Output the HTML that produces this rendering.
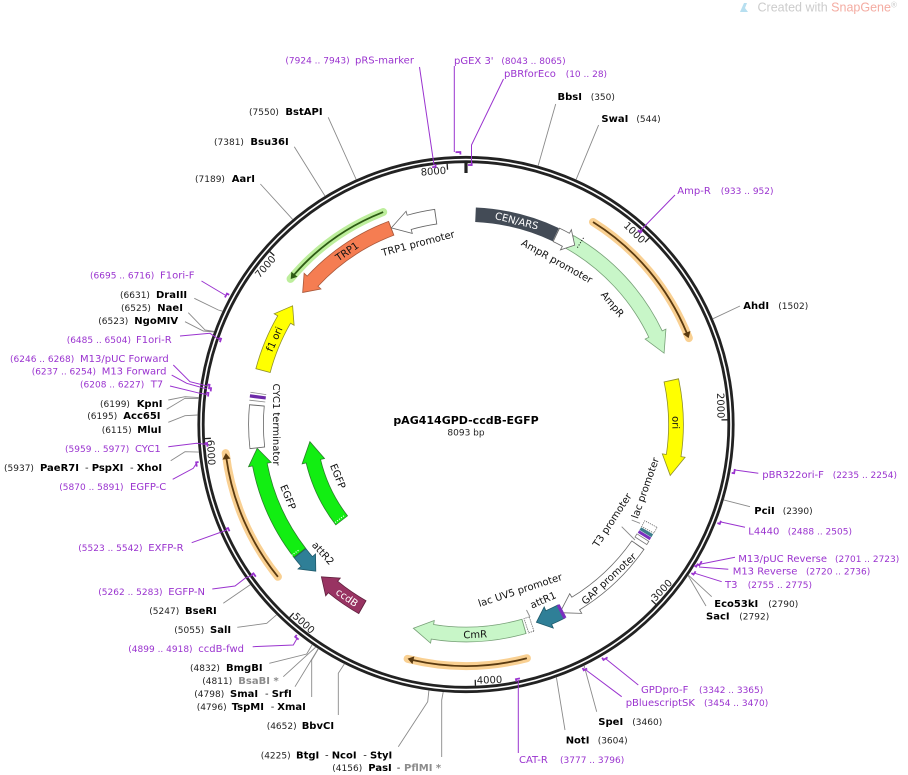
<!DOCTYPE html>
<html><head><meta charset="utf-8"><style>
html,body{margin:0;padding:0;background:#fff}
svg{display:block}
text{font-family:"DejaVu Sans","Liberation Sans",sans-serif}
.e{font-size:10px;font-weight:bold;fill:#000}
.g{font-size:10px;font-weight:bold;fill:#8c8c8c}
.d{font-size:10px;fill:#222}
.n{font-size:9px;fill:#222}
.p{font-size:10px;fill:#9a33cf}
.pn{font-size:9px;fill:#9a33cf}
.f{font-size:10px;fill:#111}
.t{font-size:10px;fill:#222}
.le{stroke:#8a8a8a;stroke-width:.9;fill:none}
.lp{stroke:#9a33cf;stroke-width:1;fill:none}
.mk{stroke:#9a33cf;stroke-width:1.8;fill:none}
.b{fill:none}
</style></head><body>
<svg width="908" height="775" viewBox="0 0 908 775" xmlns="http://www.w3.org/2000/svg">
<rect width="908" height="775" fill="#fff"/>

<!-- watermark -->
<polygon points="740,12 744,3 747,3 745,8 748,12" fill="#b7dff0"/>
<text x="757.5" y="11.5" style="font-family:'Liberation Sans',sans-serif;font-size:12.5px;fill:#cccccc">Created with <tspan fill="#f4aca2">SnapGene</tspan><tspan font-size="8" dy="-4">®</tspan></text>

<!-- ORFs (glow + line) -->
<g stroke-linecap="round">
<circle class="b" cx="466" cy="424.5" r="239" stroke="#f9d092" stroke-width="8" stroke-dasharray="153.1 2000" transform="rotate(-57.9 466 424.5)"/>
<circle class="b" cx="466" cy="424.5" r="241.5" stroke="#f9d092" stroke-width="8" stroke-dasharray="120.5 2000" transform="rotate(75.4 466 424.5)"/>
<circle class="b" cx="466" cy="424.5" r="242" stroke="#f9d092" stroke-width="8" stroke-dasharray="136 2000" transform="rotate(141 466 424.5)"/>
<circle class="b" cx="466" cy="424.5" r="228" stroke="#bdee9c" stroke-width="8" stroke-dasharray="115.4 2000" transform="rotate(219.7 466 424.5)"/>
</g>
<circle class="b" cx="466" cy="424.5" r="239" stroke="#5a3a10" stroke-width="1.8" stroke-dasharray="147.7 2000" transform="rotate(-57.9 466 424.5)"/>
<polygon points="460,181.5 460,189.5 466,185.7" fill="#5a3a10" transform="rotate(68.8 466 424.5)"/>
<circle class="b" cx="466" cy="424.5" r="241.5" stroke="#5a3a10" stroke-width="1.8" stroke-dasharray="115.5 2000" transform="rotate(75.4 466 424.5)"/>
<polygon points="460,179 460,187 466,183.2" fill="#5a3a10" transform="rotate(194 466 424.5)"/>
<circle class="b" cx="466" cy="424.5" r="242" stroke="#5a3a10" stroke-width="1.8" stroke-dasharray="130.9 2000" transform="rotate(141 466 424.5)"/>
<polygon points="460,178.5 460,186.5 466,182.7" fill="#5a3a10" transform="rotate(263.2 466 424.5)"/>
<circle class="b" cx="466" cy="424.5" r="228" stroke="#2d5a14" stroke-width="1.8" stroke-dasharray="110.2 2000" transform="rotate(221 466 424.5)"/>
<polygon points="472,192.5 472,200.5 466,196.7" fill="#2d5a14" transform="rotate(309.7 466 424.5)"/>

<!-- backbone ring -->
<circle class="b" cx="466" cy="424.5" r="267.2" stroke="#222" stroke-width="2.8"/>
<circle class="b" cx="466" cy="424.5" r="262.8" stroke="#222" stroke-width="2.8"/>

<!-- ticks -->
<g stroke="#222" stroke-width="1.3">
<line x1="466" y1="163" x2="466" y2="169" transform="rotate(44.48 466 424.5)"/>
<line x1="466" y1="163" x2="466" y2="169" transform="rotate(88.97 466 424.5)"/>
<line x1="466" y1="163" x2="466" y2="169" transform="rotate(133.45 466 424.5)"/>
<line x1="466" y1="163" x2="466" y2="169" transform="rotate(177.93 466 424.5)"/>
<line x1="466" y1="163" x2="466" y2="169" transform="rotate(222.42 466 424.5)"/>
<line x1="466" y1="163" x2="466" y2="169" transform="rotate(266.90 466 424.5)"/>
<line x1="466" y1="163" x2="466" y2="169" transform="rotate(311.38 466 424.5)"/>
<line x1="466" y1="163" x2="466" y2="169" transform="rotate(355.86 466 424.5)"/>
</g>
<line x1="466" y1="161" x2="466" y2="173" stroke="#222" stroke-width="3.2"/>
<text class="t" x="464.5" y="173" text-anchor="end" transform="rotate(44.48 466 424.5)">1000</text>
<text class="t" x="464.5" y="173" text-anchor="end" transform="rotate(88.97 466 424.5)">2000</text>
<text class="t" x="467.5" y="684" transform="rotate(-46.55 466 424.5)">3000</text>
<text class="t" x="467.5" y="684" transform="rotate(-2.07 466 424.5)">4000</text>
<text class="t" x="467.5" y="684" transform="rotate(42.42 466 424.5)">5000</text>
<text class="t" x="467.5" y="684" transform="rotate(86.90 466 424.5)">6000</text>
<text class="t" x="464.5" y="173" text-anchor="end" transform="rotate(311.38 466 424.5)">7000</text>
<text class="t" x="464.5" y="173" text-anchor="end" transform="rotate(355.86 466 424.5)">8000</text>

<!-- CEN/ARS -->
<circle class="b" cx="466" cy="424.5" r="210" stroke="#434b56" stroke-width="14.5" stroke-dasharray="83.2 2000" transform="rotate(-87.4 466 424.5)"/>

<!-- TRP1 -->
<circle class="b" cx="466" cy="424.5" r="210" stroke="#a9583b" stroke-width="15.6" stroke-dasharray="96.03 2000" transform="rotate(223.05 466 424.5)"/>
<polygon points="466,203 466,226 451,215" fill="#f57d52" stroke="#a9583b" stroke-width=".8" transform="rotate(313.05 466 424.5)"/>
<circle class="b" cx="466" cy="424.5" r="210" stroke="#f57d52" stroke-width="14" stroke-dasharray="96.21 2000" transform="rotate(222.75 466 424.5)"/>

<!-- TRP1 promoter -->
<circle class="b" cx="466" cy="424.5" r="210" stroke="#666" stroke-width="15.6" stroke-dasharray="27.67 2000" transform="rotate(254.3 466 424.5)"/>
<polygon points="466,203 466,226 447.3,215" fill="#fff" stroke="#666" stroke-width=".8" transform="rotate(344.3 466 424.5)"/>
<circle class="b" cx="466" cy="424.5" r="210" stroke="#fff" stroke-width="14" stroke-dasharray="27.86 2000" transform="rotate(254 466 424.5)"/>

<!-- AmpR -->
<circle class="b" cx="466" cy="424.5" r="210" stroke="#77a077" stroke-width="15.6" stroke-dasharray="128.1 2000" transform="rotate(-60.45 466 424.5)"/>
<polygon points="466,203 466,226 486.9,215" fill="#c8f6c8" stroke="#77a077" stroke-width=".8" transform="rotate(64.5 466 424.5)"/>
<circle class="b" cx="466" cy="424.5" r="210" stroke="#c8f6c8" stroke-width="14" stroke-dasharray="128.28 2000" transform="rotate(-60.2 466 424.5)"/>
<line x1="466" y1="204" x2="466" y2="216" stroke="#000" stroke-width="1" stroke-dasharray="1 1.6" transform="rotate(32.2 466 424.5)"/>

<!-- AmpR promoter -->
<circle class="b" cx="466" cy="424.5" r="210" stroke="#666" stroke-width="15.6" stroke-dasharray="11.18 2000" transform="rotate(-64.65 466 424.5)"/>
<polygon points="466,203 466,226 476.3,215" fill="#fff" stroke="#666" stroke-width=".8" transform="rotate(28.4 466 424.5)"/>
<circle class="b" cx="466" cy="424.5" r="210" stroke="#fff" stroke-width="14" stroke-dasharray="11.36 2000" transform="rotate(-64.4 466 424.5)"/>

<!-- ori -->
<circle class="b" cx="466" cy="424.5" r="210" stroke="#8f8f2a" stroke-width="15.6" stroke-dasharray="76.05 2000" transform="rotate(-12.25 466 424.5)"/>
<polygon points="466,203 466,226 486.2,215" fill="#ffff00" stroke="#8f8f2a" stroke-width=".8" transform="rotate(98.5 466 424.5)"/>
<circle class="b" cx="466" cy="424.5" r="210" stroke="#ffff00" stroke-width="14" stroke-dasharray="76.24 2000" transform="rotate(-12 466 424.5)"/>

<!-- lac / T3 promoter cluster -->
<rect x="466" y="207.5" width="6.6" height="14" fill="#fff" stroke="#666" stroke-width=".8" stroke-dasharray="1.2 1" transform="rotate(118.3 466 424.5)"/>
<circle class="b" cx="466" cy="424.5" r="210" stroke="#3d7d8c" stroke-width="14" stroke-dasharray="3.3 2000" transform="rotate(30.4 466 424.5)"/>
<circle class="b" cx="466" cy="424.5" r="210" stroke="#7b2fbf" stroke-width="14" stroke-dasharray="3 2000" transform="rotate(31.4 466 424.5)"/>
<rect x="466" y="207.5" width="3.7" height="14" fill="#fff" stroke="#777" stroke-width=".8" transform="rotate(122.6 466 424.5)"/>

<!-- GAP promoter -->
<circle class="b" cx="466" cy="424.5" r="210" stroke="#666" stroke-width="15.6" stroke-dasharray="86.32 2000" transform="rotate(34.95 466 424.5)"/>
<polygon points="466,203 466,226 484.3,215" fill="#fff" stroke="#666" stroke-width=".8" transform="rotate(148.5 466 424.5)"/>
<circle class="b" cx="466" cy="424.5" r="210" stroke="#fff" stroke-width="14" stroke-dasharray="86.5 2000" transform="rotate(35.2 466 424.5)"/>

<!-- attR1 -->
<circle class="b" cx="466" cy="424.5" r="210" stroke="#1f5a6b" stroke-width="15.6" stroke-dasharray="14.48 2000" transform="rotate(62.85 466 424.5)"/>
<polygon points="466,203 466,226 479.2,215" fill="#2f7f97" stroke="#1f5a6b" stroke-width=".8" transform="rotate(156.8 466 424.5)"/>
<circle class="b" cx="466" cy="424.5" r="210" stroke="#2f7f97" stroke-width="14" stroke-dasharray="14.66 2000" transform="rotate(63.1 466 424.5)"/>
<circle class="b" cx="466" cy="424.5" r="210" stroke="#7b2fbf" stroke-width="15" stroke-dasharray="3.3 2000" transform="rotate(62.5 466 424.5)"/>

<!-- lac UV5 promoter -->
<rect x="466" y="207" width="5.5" height="15" fill="#fff" stroke="#555" stroke-width=".8" stroke-dasharray="1.2 1" transform="rotate(161.8 466 424.5)"/>

<!-- CmR -->
<circle class="b" cx="466" cy="424.5" r="210" stroke="#77a077" stroke-width="15.6" stroke-dasharray="92.91 2000" transform="rotate(73.85 466 424.5)"/>
<polygon points="466,203 466,226 485.4,215" fill="#c8f6c8" stroke="#77a077" stroke-width=".8" transform="rotate(189.2 466 424.5)"/>
<circle class="b" cx="466" cy="424.5" r="210" stroke="#c8f6c8" stroke-width="14" stroke-dasharray="93.1 2000" transform="rotate(74.1 466 424.5)"/>

<!-- ccdB -->
<circle class="b" cx="466" cy="424.5" r="210" stroke="#5e1f3c" stroke-width="15.6" stroke-dasharray="36.1 2000" transform="rotate(119.45 466 424.5)"/>
<polygon points="466,203 466,226 481.4,215" fill="#983362" stroke="#5e1f3c" stroke-width=".8" transform="rotate(219.3 466 424.5)"/>
<circle class="b" cx="466" cy="424.5" r="210" stroke="#983362" stroke-width="14" stroke-dasharray="36.29 2000" transform="rotate(119.7 466 424.5)"/>

<!-- attR2 -->
<circle class="b" cx="466" cy="424.5" r="210" stroke="#1f5a6b" stroke-width="15.6" stroke-dasharray="11.18 2000" transform="rotate(139.3 466 424.5)"/>
<polygon points="466,203 466,226 452.8,215" fill="#2f7f97" stroke="#1f5a6b" stroke-width=".8" transform="rotate(229.3 466 424.5)"/>
<circle class="b" cx="466" cy="424.5" r="210" stroke="#2f7f97" stroke-width="14" stroke-dasharray="11.36 2000" transform="rotate(139 466 424.5)"/>

<!-- EGFP outer -->
<circle class="b" cx="466" cy="424.5" r="210" stroke="#2a7f2a" stroke-width="15.6" stroke-dasharray="98.04 2000" transform="rotate(142.25 466 424.5)"/>
<polygon points="466,203 466,226 482.5,215" fill="#12ee12" stroke="#2a7f2a" stroke-width=".8" transform="rotate(259 466 424.5)"/>
<circle class="b" cx="466" cy="424.5" r="210" stroke="#12ee12" stroke-width="14" stroke-dasharray="98.23 2000" transform="rotate(142.5 466 424.5)"/>
<line x1="466" y1="204" x2="466" y2="216" stroke="#fff" stroke-width="1.2" stroke-dasharray="1 1.5" transform="rotate(233.1 466 424.5)"/>

<!-- EGFP inner -->
<circle class="b" cx="466" cy="424.5" r="157" stroke="#2a7f2a" stroke-width="15.6" stroke-dasharray="66.45 2000" transform="rotate(142.25 466 424.5)"/>
<polygon points="466,256 466,279 485.7,268.7" fill="#12ee12" stroke="#2a7f2a" stroke-width=".8" transform="rotate(256.5 466 424.5)"/>
<circle class="b" cx="466" cy="424.5" r="157" stroke="#12ee12" stroke-width="14" stroke-dasharray="66.59 2000" transform="rotate(142.5 466 424.5)"/>
<line x1="466" y1="261" x2="466" y2="273" stroke="#fff" stroke-width="1.2" stroke-dasharray="1 1.5" transform="rotate(233.2 466 424.5)"/>

<!-- CYC1 terminator -->
<circle class="b" cx="466" cy="424.5" r="210" stroke="#666" stroke-width="15.6" stroke-dasharray="43.43 2000" transform="rotate(173.5 466 424.5)"/>
<circle class="b" cx="466" cy="424.5" r="210" stroke="#fff" stroke-width="14" stroke-dasharray="41.6 2000" transform="rotate(173.75 466 424.5)"/>
<circle class="b" cx="466" cy="424.5" r="210" stroke="#888" stroke-width="16" stroke-dasharray="0.8 2000" transform="rotate(186.3 466 424.5)"/>
<circle class="b" cx="466" cy="424.5" r="210" stroke="#6d2aa8" stroke-width="16" stroke-dasharray="3.3 2000" transform="rotate(187.1 466 424.5)"/>
<circle class="b" cx="466" cy="424.5" r="210" stroke="#888" stroke-width="16" stroke-dasharray="0.8 2000" transform="rotate(188.4 466 424.5)"/>

<!-- f1 ori -->
<circle class="b" cx="466" cy="424.5" r="210" stroke="#8f8f2a" stroke-width="15.6" stroke-dasharray="55.89 2000" transform="rotate(194.75 466 424.5)"/>
<polygon points="466,203 466,226 482.1,215" fill="#ffff00" stroke="#8f8f2a" stroke-width=".8" transform="rotate(300 466 424.5)"/>
<circle class="b" cx="466" cy="424.5" r="210" stroke="#ffff00" stroke-width="14" stroke-dasharray="56.08 2000" transform="rotate(195 466 424.5)"/>

<!-- feature labels -->
<text class="f" x="466" y="240.5" text-anchor="middle" transform="rotate(-14.8 466 424.5)">TRP1 promoter</text>
<text class="f" x="466" y="241.1" text-anchor="middle" transform="rotate(29.1 466 424.5)">AmpR promoter</text>
<text class="f" x="466" y="238.4" text-anchor="middle" transform="rotate(50.6 466 424.5)">AmpR</text>
<text class="f" x="466" y="218.1" text-anchor="middle" fill="#fff" style="fill:#fff" transform="rotate(14 466 424.5)">CEN/ARS</text>
<text class="f" x="466" y="218" text-anchor="middle" transform="rotate(-34.5 466 424.5)">TRP1</text>
<text class="f" x="466" y="218.1" text-anchor="middle" transform="rotate(89.5 466 424.5)">ori</text>
<text class="f" x="466" y="218.1" text-anchor="middle" transform="rotate(-66 466 424.5)">f1 ori</text>
<text class="f" x="466" y="618.1" text-anchor="middle" transform="rotate(-70.5 466 424.5)">lac promoter</text>
<text class="f" x="466" y="602.6" text-anchor="middle" transform="rotate(-56.8 466 424.5)">T3 promoter</text>
<text class="f" x="466" y="638.1" text-anchor="middle" transform="rotate(-42.8 466 424.5)">GAP promoter</text>
<text class="f" x="466" y="619.7" text-anchor="middle" transform="rotate(-23.7 466 424.5)">attR1</text>
<text class="f" x="466" y="602.1" text-anchor="middle" transform="rotate(-18.1 466 424.5)">lac UV5 promoter</text>
<text class="f" x="466" y="638.1" text-anchor="middle" transform="rotate(-2.5 466 424.5)">CmR</text>
<text class="f" x="466" y="638.1" text-anchor="middle" style="fill:#fff" transform="rotate(34.5 466 424.5)">ccdB</text>
<text class="f" x="466" y="620.3" text-anchor="middle" transform="rotate(48 466 424.5)">attR2</text>
<text class="f" x="466" y="620.1" text-anchor="middle" transform="rotate(67.8 466 424.5)">EGFP</text>
<text class="f" x="466" y="566.1" text-anchor="middle" transform="rotate(68 466 424.5)">EGFP</text>
<text class="f" x="466" y="617.4" text-anchor="middle" transform="rotate(90 466 424.5)">CYC1 terminator</text>
<path class="le" d="M621.7 526.7 L635 540 M631.7 520 L640 523.3 M526.5 610 L530 617"/>

<!-- title -->
<text x="466" y="424" text-anchor="middle" style="font-size:11px;font-weight:bold;fill:#000">pAG414GPD-ccdB-EGFP</text>
<text x="466" y="435.5" text-anchor="middle" style="font-size:9px;fill:#222">8093 bp</text>

<!-- enzyme leaders -->
<path class="le" d="M555.7 104 L538.1 165.9 M598.6 125 L576.1 179.6 M328.2 117.3 L356.2 179.5 M294.3 146.7 L325 196 M260.4 184 L292.7 219.4 M740 306 L712.8 318.8 M750 506.7 L723.7 499.9 M711.7 596.7 L688.3 575.1 M706 606 L688 575.4 M596.7 711.7 L584.1 665.6 M565 730 L556.4 677.3 M441.7 757 L441.7 700 L443.2 692 M398.3 746.7 L427.7 701.7 L428.9 690.4 M338.3 715 L338.3 673.3 L344.4 663.9 M311.7 697 L311.7 660 L318.4 648.8 M295 686.7 L318.1 648.9 M283.3 676.7 L315.8 647.1 M269.3 663.3 L306.7 654 L312.2 644.6 M237.3 627.3 L266.7 623.3 L276.6 614.8 M223.3 603.3 L250.4 584.6 M170.7 460.7 L185 451.7 L198.9 452.1 M168.3 422.3 L185 415.7 L197.7 415 M166.7 409.3 L185 398.3 L198.8 398.4 M168.3 400 L185 396.7 L198.9 397.6 M185 321.7 L203.3 331 L214 331.9 M188.3 312.7 L205 330 L214.1 331.4 M194.3 298.3 L218.3 310 L222.6 311.2"/>

<!-- primer leaders -->
<path class="lp" d="M419.5 67 L434 165 M454.3 66 L454.3 152 M503.5 79 L471.5 145 L471.5 165 M675 195 L640 231 M201.5 281 L225 295 M180 336 L210 333.3 L220 340 M173.3 365 L190 381.7 L207 386 M171.7 375 L186.7 383.3 L207 389 M170 386 L200 393.3 L207 394.5 M168.3 446.7 L196.7 443.3 L207 444.5 M172.7 479.3 L193.3 468.3 L196 464 M191.7 542.7 L227 530 M212.3 589 L235 586 L245 578.3 L253 575 M252.7 646.7 L293.3 645 L297 638.5 M518.3 753 L518.3 680 M621.7 696.7 L586 670 M638.3 685 L606 659 M758.3 473.3 L735 470 M745 527.3 L721 522 M735 557.3 L701 564 M728.3 569.3 L699 567 M721.7 581.7 L695 573.3"/>

<!-- primer marks -->
<g class="mk">
<path d="M466 165 h3.6 v-2.5" transform="rotate(352.5 466 424.5)"/>
<path d="M466 152 h4.8 v2.5" transform="rotate(357.8 466 424.5)"/>
<path d="M466 165 h3.7 v-2.5" transform="rotate(0.44 466 424.5)"/>
<path d="M466 165 h3.6 v-2.5" transform="rotate(41.5 466 424.5)"/>
<path d="M466 152 h4.3 v2.5" transform="rotate(297.8 466 424.5)"/>
<path d="M466 165 h3.6 v-2.5" transform="rotate(288.5 466 424.5)"/>
<path d="M466 165 h4.5 v-2.5" transform="rotate(277.8 466 424.5)"/>
<path d="M466 167 h3.2 v-2.5" transform="rotate(277.4 466 424.5)"/>
<path d="M466 165 h3.6 v-2.5" transform="rotate(276.2 466 424.5)"/>
<path d="M466 165 h3.6 v-2.5" transform="rotate(265.1 466 424.5)"/>
<path d="M466 152 h4.3 v2.5" transform="rotate(261.1 466 424.5)"/>
<path d="M466 165 h3.6 v-2.5" transform="rotate(245.7 466 424.5)"/>
<path d="M466 165 h4.1 v-2.5" transform="rotate(234.1 466 424.5)"/>
<path d="M466 152 h4.3 v2.5" transform="rotate(217.9 466 424.5)"/>
<path d="M466 165 h4.1 v-2.5" transform="rotate(168 466 424.5)"/>
<path d="M466 152 h3.8 v2.5" transform="rotate(153.6 466 424.5)"/>
<path d="M466 152 h4.8 v2.5" transform="rotate(148.7 466 424.5)"/>
<path d="M466 152 h4.3 v2.5" transform="rotate(99.4 466 424.5)"/>
<path d="M466 152 h3.3 v2.5" transform="rotate(110.7 466 424.5)"/>
<path d="M466 152 h4.8 v2.5" transform="rotate(120.1 466 424.5)"/>
<path d="M466 154 h3.3 v2.5" transform="rotate(121 466 424.5)"/>
<path d="M466 152 h3.8 v2.5" transform="rotate(122.6 466 424.5)"/>
</g>

<!-- top labels -->
<text class="pn" x="285.4" y="63.5">(7924 .. 7943)</text><text class="p" x="355" y="63.5">pRS-marker</text>
<text class="p" x="454" y="64.2">pGEX 3'</text><text class="pn" x="501.4" y="64.2">(8043 .. 8065)</text>
<text class="p" x="504" y="76.8">pBRforEco</text><text class="pn" x="565.7" y="76.8">(10 .. 28)</text>
<text class="e" x="557.5" y="100.2">BbsI</text><text class="n" x="590.7" y="100.2">(350)</text>
<text class="e" x="601.4" y="121.8">SwaI</text><text class="n" x="636.4" y="121.8">(544)</text>
<text class="n" x="249" y="115.2">(7550)</text><text class="e" x="285.4" y="115.2">BstAPI</text>
<text class="n" x="214" y="145.2">(7381)</text><text class="e" x="250.4" y="145.2">Bsu36I</text>
<text class="n" x="195" y="181.8">(7189)</text><text class="e" x="231.8" y="181.8">AarI</text>
<text class="p" x="677.3" y="194.2">Amp-R</text><text class="pn" x="720.7" y="194.2">(933 .. 952)</text>
<text class="e" x="743.3" y="309.2">AhdI</text><text class="n" x="778.3" y="309.2">(1502)</text>

<!-- right labels -->
<text class="p" x="762.3" y="477.8">pBR322ori-F</text><text class="pn" x="832.7" y="477.8">(2235 .. 2254)</text>
<text class="e" x="754.3" y="514.2">PciI</text><text class="n" x="782.7" y="514.2">(2390)</text>
<text class="p" x="748.3" y="534.5">L4440</text><text class="pn" x="787.7" y="534.5">(2488 .. 2505)</text>
<text class="p" x="738.3" y="561.8">M13/pUC Reverse</text><text class="pn" x="835" y="561.8">(2701 .. 2723)</text>
<text class="p" x="732.7" y="574.5">M13 Reverse</text><text class="pn" x="806" y="574.5">(2720 .. 2736)</text>
<text class="p" x="725" y="587.8">T3</text><text class="pn" x="747.7" y="587.8">(2755 .. 2775)</text>
<text class="e" x="714.3" y="606.8">Eco53kI</text><text class="n" x="768.3" y="606.8">(2790)</text>
<text class="e" x="706" y="619.5">SacI</text><text class="n" x="739.3" y="619.5">(2792)</text>

<!-- bottom right labels -->
<text class="p" x="641" y="692.8">GPDpro-F</text><text class="pn" x="699" y="692.8">(3342 .. 3365)</text>
<text class="p" x="625.7" y="706.2">pBluescriptSK</text><text class="pn" x="704" y="706.2">(3454 .. 3470)</text>
<text class="e" x="598.3" y="725.2">SpeI</text><text class="n" x="632.3" y="725.2">(3460)</text>
<text class="e" x="565.7" y="743.5">NotI</text><text class="n" x="597.7" y="743.5">(3604)</text>
<text class="p" x="519" y="762.8">CAT-R</text><text class="pn" x="560" y="762.8">(3777 .. 3796)</text>

<!-- bottom left labels -->
<text class="n" x="332.3" y="770.8">(4156)</text><text class="e" x="368.3" y="770.8">PasI</text><text class="d" x="396.7" y="770.8">-</text><text class="g" x="404" y="770.8">PflMI *</text>
<text class="n" x="260.7" y="758.5">(4225)</text><text class="e" x="296" y="758.5">BtgI</text><text class="d" x="325" y="758.5">-</text><text class="e" x="331.7" y="758.5">NcoI</text><text class="d" x="363.3" y="758.5">-</text><text class="e" x="370" y="758.5">StyI</text>
<text class="n" x="266.7" y="729.2">(4652)</text><text class="e" x="301.7" y="729.2">BbvCI</text>
<text class="n" x="196.7" y="710.2">(4796)</text><text class="e" x="231.7" y="710.2">TspMI</text><text class="d" x="270.7" y="710.2">-</text><text class="e" x="277.3" y="710.2">XmaI</text>
<text class="n" x="194.3" y="696.8">(4798)</text><text class="e" x="230" y="696.8">SmaI</text><text class="d" x="265" y="696.8">-</text><text class="e" x="271.7" y="696.8">SrfI</text>
<text class="n" x="202.3" y="684.2">(4811)</text><text class="g" x="238.3" y="684.2">BsaBI *</text>
<text class="n" x="190" y="671.2">(4832)</text><text class="e" x="226" y="671.2">BmgBI</text>
<text class="pn" x="128.3" y="651.8">(4899 .. 4918)</text><text class="p" x="198.3" y="651.8">ccdB-fwd</text>
<text class="n" x="174.3" y="632.8">(5055)</text><text class="e" x="210" y="632.8">SalI</text>
<text class="n" x="149.3" y="614.2">(5247)</text><text class="e" x="185" y="614.2">BseRI</text>
<text class="pn" x="98.3" y="595.2">(5262 .. 5283)</text><text class="p" x="168.3" y="595.2">EGFP-N</text>
<text class="pn" x="78.3" y="550.8">(5523 .. 5542)</text><text class="p" x="148.3" y="550.8">EXFP-R</text>

<!-- left labels -->
<text class="pn" x="59.3" y="490.2">(5870 .. 5891)</text><text class="p" x="130" y="490.2">EGFP-C</text>
<text class="n" x="4" y="470.8">(5937)</text><text class="e" x="40" y="470.8">PaeR7I</text><text class="d" x="85" y="470.8">-</text><text class="e" x="91.7" y="470.8">PspXI</text><text class="d" x="130" y="470.8">-</text><text class="e" x="136.7" y="470.8">XhoI</text>
<text class="pn" x="65" y="451.8">(5959 .. 5977)</text><text class="p" x="135" y="451.8">CYC1</text>
<text class="n" x="101.7" y="432.8">(6115)</text><text class="e" x="137.3" y="432.8">MluI</text>
<text class="n" x="87.3" y="419.2">(6195)</text><text class="e" x="123.3" y="419.2">Acc65I</text>
<text class="n" x="100" y="406.8">(6199)</text><text class="e" x="136.7" y="406.8">KpnI</text>
<text class="pn" x="80" y="387.5">(6208 .. 6227)</text><text class="p" x="150.7" y="387.5">T7</text>
<text class="pn" x="31.7" y="374.5">(6237 .. 6254)</text><text class="p" x="101.7" y="374.5">M13 Forward</text>
<text class="pn" x="10" y="361.8">(6246 .. 6268)</text><text class="p" x="80" y="361.8">M13/pUC Forward</text>
<text class="pn" x="66.7" y="342.8">(6485 .. 6504)</text><text class="p" x="136" y="342.8">F1ori-R</text>
<text class="n" x="98.3" y="324.2">(6523)</text><text class="e" x="134.3" y="324.2">NgoMIV</text>
<text class="n" x="121" y="310.8">(6525)</text><text class="e" x="157.3" y="310.8">NaeI</text>
<text class="n" x="120" y="297.8">(6631)</text><text class="e" x="156" y="297.8">DraIII</text>
<text class="pn" x="90" y="278.5">(6695 .. 6716)</text><text class="p" x="160" y="278.5">F1ori-F</text>
</svg>
</body></html>
